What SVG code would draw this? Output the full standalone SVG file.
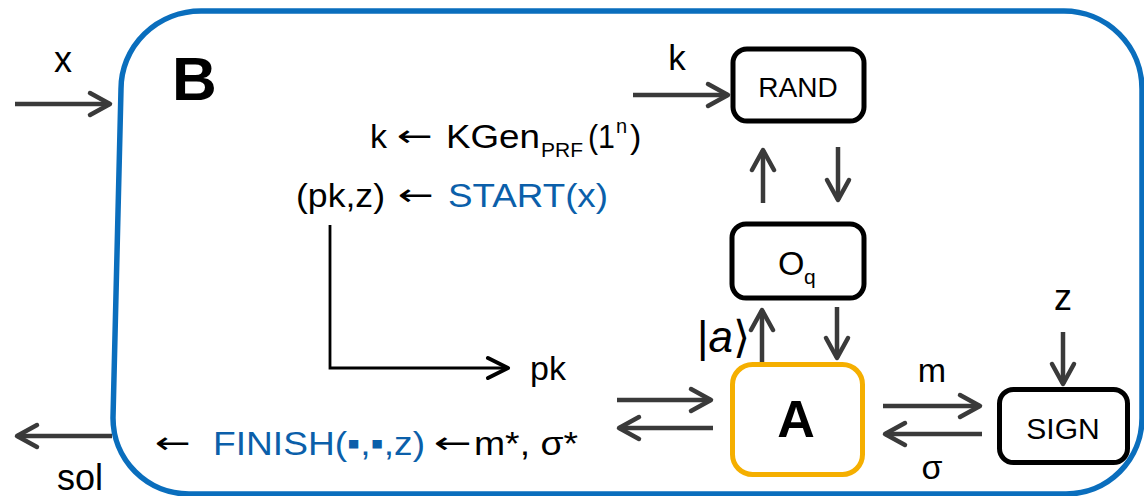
<svg xmlns="http://www.w3.org/2000/svg" width="1144" height="496" viewBox="0 0 1144 496">
<defs>
<style>
text{font-family:"Liberation Sans",Arial,"DejaVu Sans",sans-serif;fill:#000}
.t{font-size:34px}
.lbl{font-size:36px}
.arr{font-family:"DejaVu Sans",sans-serif;font-size:30px}
.blue{fill:#0B5FAA}
.box{fill:#fff;stroke:#000;stroke-width:5}
.conn{fill:none;stroke:#3a3a3a;stroke-width:4.5;marker-end:url(#ah)}
.mid{text-anchor:middle}
</style>
<marker id="ah" markerUnits="userSpaceOnUse" markerWidth="32" markerHeight="32" viewBox="-28 -16 32 32" refX="0" refY="0" orient="auto" overflow="visible">
<path d="M-20,-11 L0,0 L-20,11" fill="none" stroke="#3a3a3a" stroke-width="4.5" stroke-linecap="round" stroke-linejoin="round"/>
</marker>
<marker id="ahk" markerUnits="userSpaceOnUse" markerWidth="32" markerHeight="32" viewBox="-28 -16 32 32" refX="0" refY="0" orient="auto" overflow="visible">
<path d="M-20,-10 L0,0 L-20,10" fill="none" stroke="#000" stroke-width="4" stroke-linecap="round" stroke-linejoin="round"/>
</marker>
</defs>
<rect width="1144" height="496" fill="#fff"/>
<g id="frame">
<path d="M201,11 H1064 A78 78 0 0 1 1142 89 V418 A76 76 0 0 1 1066 494 H189 A76 76 0 0 1 113 418 L121 89 A80 78 0 0 1 201 11 Z" fill="none" stroke="#0A6EBD" stroke-width="5.5"/>
<text x="172" y="100" font-size="62" font-weight="bold">B</text>
</g>
<g id="connectors">
<line class="conn" x1="15" y1="104" x2="110" y2="104"/>
<line class="conn" x1="112" y1="436" x2="17" y2="436"/>
<line class="conn" x1="633" y1="95" x2="728" y2="95"/>
<line class="conn" x1="763" y1="203" x2="763" y2="150"/>
<line class="conn" x1="838" y1="147" x2="838" y2="200"/>
<line class="conn" x1="762" y1="362" x2="762" y2="310"/>
<line class="conn" x1="837" y1="307" x2="837" y2="358"/>
<line class="conn" x1="617" y1="400" x2="711" y2="400"/>
<line class="conn" x1="713" y1="428" x2="619" y2="428"/>
<line class="conn" x1="883" y1="406" x2="980" y2="406"/>
<line class="conn" x1="982" y1="434" x2="885" y2="434"/>
<line class="conn" x1="1063" y1="332" x2="1063" y2="384"/>
<path d="M330,225 V368 H508" fill="none" stroke="#000" stroke-width="2.8" marker-end="url(#ahk)"/>
</g>
<g id="labels">
<text class="lbl mid" x="63" y="72">x</text>
<text class="lbl mid" x="80" y="490">sol</text>
<text class="mid" x="677" y="70" font-size="35">k</text>
<text class="lbl mid" x="1063" y="310">z</text>
<text class="t mid" x="932" y="382">m</text>
<text class="t mid" x="932" y="479">σ</text>
<text class="t" x="530" y="380">pk</text>
<text font-size="44" font-family="'Liberation Serif','DejaVu Serif',serif" x="697" y="352">|<tspan font-style="italic">a</tspan>⟩</text>
</g>
<g id="kgen">
<text class="t" x="370" y="148">k</text>
<text class="arr" x="397" y="146" textLength="36" lengthAdjust="spacingAndGlyphs">←</text>
<text class="t"><tspan x="446" y="148" textLength="94" lengthAdjust="spacingAndGlyphs">KGen</tspan><tspan x="541" y="157" font-size="21">PRF</tspan><tspan x="588" y="148" textLength="27" lengthAdjust="spacingAndGlyphs">(1</tspan><tspan x="616" y="133" font-size="20">n</tspan><tspan x="630" y="148">)</tspan></text>
</g>
<g id="start">
<text class="t" x="296" y="207" textLength="89" lengthAdjust="spacingAndGlyphs">(pk,z)</text>
<text class="arr" x="398" y="205" textLength="36" lengthAdjust="spacingAndGlyphs">←</text>
<text class="t blue" x="448" y="207" textLength="160" lengthAdjust="spacingAndGlyphs">START(x)</text>
</g>
<g id="finish">
<text class="arr" x="155" y="453" textLength="36" lengthAdjust="spacingAndGlyphs">←</text>
<text class="t blue" x="213" y="455" textLength="212" lengthAdjust="spacingAndGlyphs">FINISH(▪,▪,z)</text>
<text class="arr" x="434" y="453" textLength="38" lengthAdjust="spacingAndGlyphs">←</text>
<text class="t" x="474" y="455" textLength="104" lengthAdjust="spacingAndGlyphs">m*, σ*</text>
</g>
<g id="rand">
<rect class="box" x="733" y="49" width="131" height="72" rx="14"/>
<text class="mid" x="798" y="97" font-size="28">RAND</text>
</g>
<g id="oq">
<rect class="box" x="732" y="224" width="132" height="74" rx="14"/>
<text x="778" y="275" font-size="34">O<tspan x="804" y="284" font-size="21">q</tspan></text>
</g>
<g id="adversary">
<rect x="732.5" y="364.5" width="130" height="110" rx="20" fill="#fff" stroke="#F5AF00" stroke-width="5"/>
<text class="mid" x="796" y="437" font-size="52" font-weight="bold">A</text>
</g>
<g id="sign">
<rect class="box" x="999.5" y="389.5" width="128" height="73" rx="14"/>
<text class="mid" x="1063" y="439" font-size="30">SIGN</text>
</g>
</svg>
